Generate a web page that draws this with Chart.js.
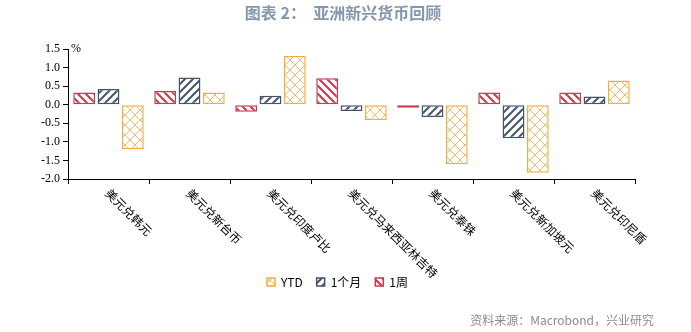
<!DOCTYPE html>
<html>
<head>
<meta charset="utf-8">
<script src="https://cdn.jsdelivr.net/npm/chart.js@4.4.0/dist/chart.umd.min.js"></script>
<style>
  body { margin: 0; background: #fff; }
  canvas { display: block; }
</style>
</head>
<body>
<canvas id="fx-chart" width="691" height="332"></canvas>
<script>
// 亚洲新兴货币：1周 / 1个月 / YTD 涨跌幅 (%)
const pairs = ['美元兑韩元', '美元兑新台币', '美元兑印度卢比', '美元兑马来西亚林吉特', '美元兑泰铢', '美元兑新加坡元', '美元兑印尼盾'];
const week1 = [0.33, 0.37, -0.19, 0.71, -0.08, 0.33, 0.33];
const month1 = [0.42, 0.73, 0.24, -0.17, -0.33, -0.90, 0.22];
const ytd = [-1.20, 0.33, 1.32, -0.42, -1.60, -1.83, 0.65];
const yTicks = [-2.0, -1.5, -1.0, -0.5, 0.0, 0.5, 1.0, 1.5];

const RED = '#c9384f';
const NAVY = '#44546a';
const ORANGE = '#f4ac3c';

// diagonal stripes / cross hatch fills
function hatch(color, kind, size, lw){
  const c = document.createElement('canvas');
  c.width = size; c.height = size;
  const g = c.getContext('2d');
  g.fillStyle = '#fff';
  g.fillRect(0, 0, size, size);
  g.strokeStyle = color;
  g.lineWidth = lw;
  g.beginPath();
  if (kind === 'back' || kind === 'cross') {
    for (let k = -1; k <= 1; k++) {
      g.moveTo(k * size - 1, -1);
      g.lineTo(k * size + size + 1, size + 1);
    }
  }
  if (kind === 'fwd' || kind === 'cross') {
    for (let k = -1; k <= 1; k++) {
      g.moveTo(k * size - 1, size + 1);
      g.lineTo(k * size + size + 1, -1);
    }
  }
  g.stroke();
  return g.createPattern(c, 'repeat');
}

const ctx = document.getElementById('fx-chart').getContext('2d');
const redFill = hatch(RED, 'back', 8, 2);
const navyFill = hatch(NAVY, 'fwd', 8, 2);
const orangeFill = hatch('#f5bb6a', 'cross', 10, 1);

const textPlugin = {
  id: 'texts',
  afterDraw(chart){
    const c = chart.ctx;
    const xs = chart.scales.x;
    c.save();
    // title
    c.fillStyle = '#8497b0';
    c.font = 'bold 16px "Noto Sans CJK SC"';
    c.textAlign = 'center';
    c.textBaseline = 'middle';
    c.fillText('图表 2：  亚洲新兴货币回顾', 343, 13);
    // source
    c.fillStyle = '#8c8c8c';
    c.font = '12px "Noto Sans CJK SC"';
    c.textAlign = 'right';
    c.fillText('资料来源：Macrobond，兴业研究', 654, 320);
    // unit
    c.fillStyle = '#000';
    c.font = '12px "Liberation Serif", serif';
    c.textAlign = 'left';
    c.fillText('%', chart.chartArea.left + 3, chart.chartArea.top);
    // slanted category labels
    c.font = '12px "Noto Sans CJK SC"';
    pairs.forEach((p, i) => {
      const x = xs.getPixelForTick(i);
      c.save();
      c.translate(x - 1, xs.top + 12);
      c.rotate(Math.PI / 4);
      c.textAlign = 'left';
      c.textBaseline = 'middle';
      c.fillText(p, 0, 0);
      c.restore();
    });
    c.restore();
  }
};

new Chart(ctx, {
  type: 'bar',
  data: {
    labels: pairs,
    datasets: [
      { label: '1周', data: week1, backgroundColor: redFill, borderColor: RED },
      { label: '1个月', data: month1, backgroundColor: navyFill, borderColor: NAVY },
      { label: 'YTD', data: ytd, backgroundColor: orangeFill, borderColor: ORANGE }
    ]
  },
  options: {
    responsive: false,
    animation: false,
    datasets: {
      bar: {
        borderWidth: 1.5,
        borderSkipped: false,
        categoryPercentage: 0.9,
        barPercentage: 0.9
      }
    },
    layout: { padding: { top: 49, left: 40, right: 56, bottom: 34 } },
    plugins: {
      legend: {
        position: 'bottom',
        reverse: true,
        labels: {
          boxWidth: 8,
          boxHeight: 8,
          padding: 14,
          color: '#000',
          font: { size: 12, family: '"Noto Sans CJK SC"' }
        }
      },
      tooltip: { enabled: false }
    },
    scales: {
      x: {
        afterFit: s => { s.height = 83; },
        grid: { drawOnChartArea: false, tickLength: 5, color: '#000', offset: true },
        border: { color: '#000', width: 1 },
        ticks: { display: false }
      },
      y: {
        min: -2,
        max: 1.5,
        afterFit: s => { s.width = 28; },
        afterBuildTicks: s => { s.ticks = yTicks.map(v => ({ value: v })); },
        grid: { drawOnChartArea: false, tickLength: 5, color: '#000' },
        border: { color: '#000', width: 1 },
        ticks: {
          padding: 3,
          color: '#000',
          font: { size: 12, family: '"Liberation Serif", serif' },
          callback: v => v.toFixed(1)
        }
      }
    }
  },
  plugins: [textPlugin]
});
</script>
</body>
</html>
